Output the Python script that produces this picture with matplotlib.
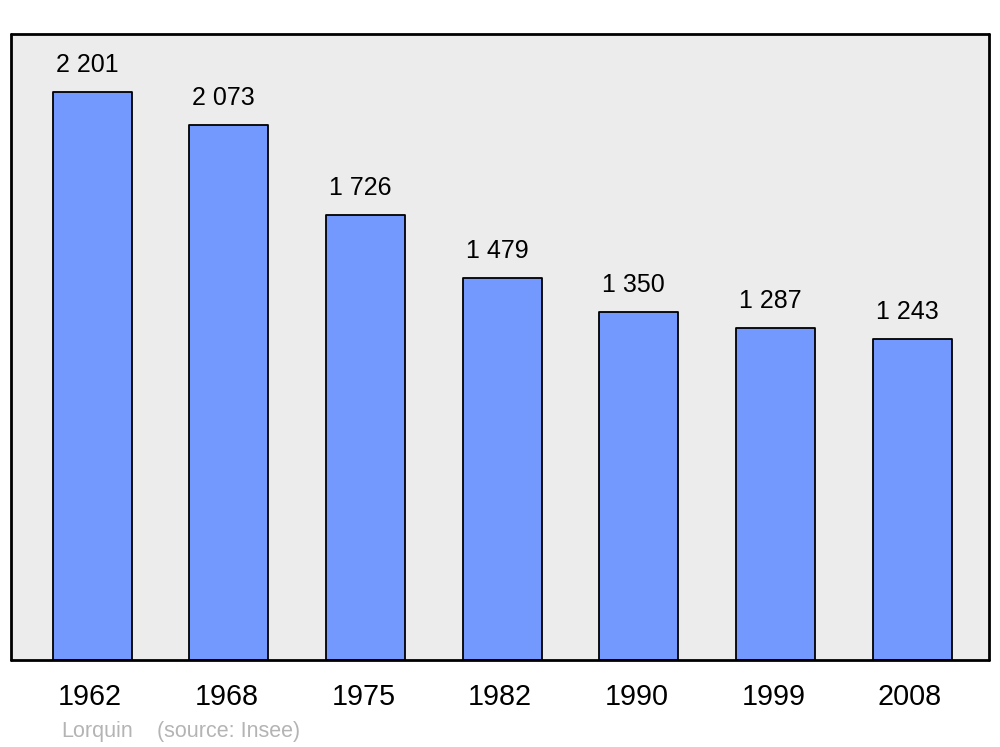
import matplotlib
matplotlib.use("Agg")
import matplotlib.pyplot as plt
from matplotlib.transforms import ScaledTranslation

plt.rcParams['font.family'] = ['Liberation Sans', 'DejaVu Sans']

years = ["1962", "1968", "1975", "1982", "1990", "1999", "2008"]
population = [2201, 2073, 1726, 1479, 1350, 1287, 1243]
value_labels = ["2 201", "2 073", "1 726", "1 479", "1 350", "1 287", "1 243"]

fig = plt.figure(figsize=(10, 7.47), dpi=100)
ax = fig.add_axes([0.011, 0.1165, 0.978, 0.838])
ax.set_facecolor("#ececec")

x = range(len(years))
bars = ax.bar(x, population, width=0.578, color="#7399ff", edgecolor="black",
              linewidth=1.3, joinstyle="round")

for xi, v, lab in zip(x, population, value_labels):
    ax.annotate(lab, (xi, v), xytext=(-5, 27), textcoords="offset pixels",
                ha="center", va="center", fontsize=18)

ax.set_xlim(-0.593, 6.563)
ax.set_ylim(0, 2426)
ax.set_yticks([])
ax.set_xticks(list(x))
ax.set_xticklabels(years, fontsize=20.7)
ax.tick_params(axis="x", length=0, pad=16.5)
for lbl in ax.get_xticklabels():
    lbl.set_transform(lbl.get_transform() + ScaledTranslation(-0.02, 0, fig.dpi_scale_trans))
for s in ax.spines.values():
    s.set_linewidth(2)
    s.set_capstyle("round")
    s.set_joinstyle("round")

fig.text(0.061, 0.021, "Lorquin", color="#b4b4b4", fontsize=15.5, ha="left", va="center")
fig.text(0.157, 0.021, "(source: Insee)", color="#b4b4b4", fontsize=15.5, ha="left", va="center")

fig.savefig("out.png", dpi=100)
